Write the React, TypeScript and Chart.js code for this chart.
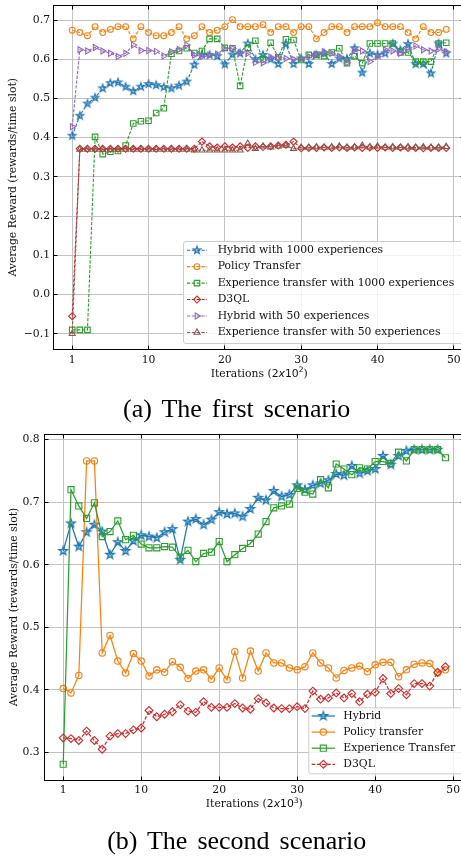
import React, { useEffect, useRef } from 'react';
import { Chart, registerables } from 'chart.js';
import { drawPoint } from 'chart.js/helpers';

Chart.register(...registerables);

const SERIF = '"DejaVu Serif", serif';
const SANS = '"DejaVu Sans", sans-serif';
const FS = 10.8;
const GRID = '#c2c2c2';
const TXT = '#111';

// x positions of the evaluation points (one per logged iteration block)
const iterations = Array.from({ length: 50 }, (_, i) => i);
const xTickValues = [0, 10, 20, 30, 40, 50];
const xTickLabels = ['1', '10', '20', '30', '40', '50'];

// ---------- (a) The first scenario ----------
const s1Names = [
  'Hybrid with 1000 experiences',
  'Policy Transfer',
  'Experience transfer with 1000 experiences',
  'D3QL',
  'Hybrid with 50 experiences',
  'Experience transfer with 50 experiences',
];
const s1Hybrid1000 = [0.405, 0.456, 0.487, 0.502, 0.526, 0.539, 0.541, 0.530, 0.519, 0.530, 0.537, 0.534, 0.529, 0.526, 0.533, 0.543, 0.586, 0.612, 0.611, 0.608, 0.587, 0.612, 0.615, 0.640, 0.600, 0.611, 0.600, 0.588, 0.639, 0.588, 0.602, 0.588, 0.611, 0.615, 0.588, 0.602, 0.601, 0.628, 0.566, 0.615, 0.611, 0.615, 0.640, 0.624, 0.639, 0.588, 0.588, 0.564, 0.640, 0.615];
const s1Policy = [0.674, 0.668, 0.660, 0.683, 0.668, 0.676, 0.683, 0.683, 0.652, 0.683, 0.668, 0.660, 0.660, 0.668, 0.683, 0.652, 0.660, 0.683, 0.668, 0.674, 0.683, 0.701, 0.683, 0.683, 0.683, 0.688, 0.668, 0.683, 0.683, 0.668, 0.683, 0.683, 0.652, 0.668, 0.683, 0.683, 0.668, 0.683, 0.683, 0.683, 0.693, 0.683, 0.683, 0.683, 0.668, 0.652, 0.683, 0.668, 0.668, 0.676];
const s1Exp1000 = [-0.09, -0.09, -0.09, 0.402, 0.358, 0.364, 0.366, 0.380, 0.436, 0.442, 0.443, 0.463, 0.475, 0.614, 0.621, 0.628, 0.616, 0.621, 0.652, 0.652, 0.629, 0.628, 0.532, 0.629, 0.647, 0.600, 0.642, 0.605, 0.651, 0.649, 0.598, 0.611, 0.611, 0.608, 0.617, 0.628, 0.590, 0.608, 0.590, 0.640, 0.640, 0.640, 0.640, 0.617, 0.617, 0.594, 0.594, 0.594, 0.640, 0.642];
const s1D3QL = [-0.055, 0.372, 0.372, 0.372, 0.372, 0.372, 0.372, 0.372, 0.372, 0.372, 0.372, 0.372, 0.372, 0.372, 0.372, 0.372, 0.372, 0.390, 0.378, 0.375, 0.378, 0.375, 0.378, 0.374, 0.378, 0.376, 0.378, 0.380, 0.382, 0.390, 0.373, 0.374, 0.374, 0.375, 0.374, 0.375, 0.374, 0.375, 0.374, 0.375, 0.374, 0.375, 0.374, 0.375, 0.374, 0.374, 0.373, 0.374, 0.374, 0.374];
const s1Hybrid50 = [0.428, 0.624, 0.621, 0.630, 0.621, 0.615, 0.607, 0.615, 0.636, 0.622, 0.622, 0.620, 0.608, 0.619, 0.625, 0.636, 0.611, 0.607, 0.610, 0.613, 0.627, 0.628, 0.617, 0.615, 0.592, 0.591, 0.605, 0.605, 0.602, 0.600, 0.602, 0.607, 0.613, 0.619, 0.615, 0.607, 0.591, 0.624, 0.621, 0.594, 0.607, 0.624, 0.621, 0.615, 0.624, 0.634, 0.624, 0.621, 0.626, 0.619];
const s1Exp50 = [-0.1, 0.370, 0.370, 0.370, 0.370, 0.370, 0.370, 0.370, 0.370, 0.370, 0.370, 0.370, 0.370, 0.370, 0.370, 0.370, 0.368, 0.368, 0.368, 0.368, 0.368, 0.368, 0.368, 0.385, 0.372, 0.378, 0.376, 0.378, 0.380, 0.372, 0.375, 0.375, 0.376, 0.375, 0.376, 0.378, 0.375, 0.376, 0.380, 0.376, 0.378, 0.375, 0.376, 0.375, 0.376, 0.375, 0.376, 0.375, 0.375, 0.377];
const s1YTicks = [-0.1, 0, 0.1, 0.2, 0.3, 0.4, 0.5, 0.6, 0.7];
const s1YTickLabels = ['\u22120.1', '0.0', '0.1', '0.2', '0.3', '0.4', '0.5', '0.6', '0.7'];

// ---------- (b) The second scenario ----------
const s2Names = ['Hybrid', 'Policy transfer', 'Experience Transfer', 'D3QL'];
const s2Hybrid = [0.622, 0.666, 0.629, 0.652, 0.664, 0.653, 0.616, 0.636, 0.622, 0.638, 0.647, 0.645, 0.643, 0.652, 0.657, 0.608, 0.669, 0.673, 0.664, 0.672, 0.684, 0.681, 0.682, 0.677, 0.689, 0.707, 0.703, 0.718, 0.709, 0.712, 0.727, 0.720, 0.727, 0.730, 0.735, 0.745, 0.743, 0.758, 0.746, 0.750, 0.753, 0.774, 0.760, 0.774, 0.782, 0.784, 0.784, 0.784, 0.784];
const s2Policy = [0.402, 0.395, 0.423, 0.766, 0.766, 0.459, 0.487, 0.446, 0.427, 0.458, 0.446, 0.422, 0.432, 0.428, 0.445, 0.436, 0.418, 0.430, 0.432, 0.417, 0.435, 0.416, 0.461, 0.419, 0.462, 0.430, 0.459, 0.443, 0.443, 0.435, 0.432, 0.437, 0.459, 0.443, 0.435, 0.419, 0.431, 0.435, 0.438, 0.429, 0.440, 0.444, 0.444, 0.421, 0.432, 0.441, 0.443, 0.442, 0.427, 0.432];
const s2Exp = [0.281, 0.720, 0.694, 0.674, 0.699, 0.645, 0.653, 0.670, 0.640, 0.647, 0.633, 0.627, 0.627, 0.629, 0.628, 0.612, 0.623, 0.605, 0.618, 0.620, 0.637, 0.605, 0.616, 0.626, 0.634, 0.649, 0.669, 0.691, 0.694, 0.697, 0.722, 0.716, 0.713, 0.736, 0.723, 0.761, 0.753, 0.744, 0.755, 0.753, 0.765, 0.765, 0.762, 0.780, 0.766, 0.784, 0.784, 0.784, 0.784, 0.771];
const s2D3QL = [0.323, 0.322, 0.319, 0.334, 0.319, 0.305, 0.326, 0.330, 0.330, 0.336, 0.339, 0.367, 0.357, 0.361, 0.365, 0.376, 0.366, 0.364, 0.381, 0.372, 0.372, 0.372, 0.378, 0.371, 0.369, 0.386, 0.379, 0.371, 0.370, 0.370, 0.373, 0.370, 0.398, 0.385, 0.387, 0.395, 0.387, 0.394, 0.381, 0.393, 0.396, 0.418, 0.394, 0.402, 0.392, 0.410, 0.410, 0.406, 0.428, 0.437];
const s2YTicks = [0.3, 0.4, 0.5, 0.6, 0.7, 0.8];
const s2YTickLabels = ['0.3', '0.4', '0.5', '0.6', '0.7', '0.8'];

const C = {
  blue: '#1f77b4', orange: '#ff7f0e', green: '#2ca02c', red: '#d62728', purple: '#9467bd', brown: '#8c564b',
};

function makeStar(color: string, R: number, lw: number) {
  let size = Math.ceil(2 * R + lw * 2 + 2);
  if (size % 2) size += 1;
  const c = document.createElement('canvas');
  c.width = size;
  c.height = size;
  const ctx = c.getContext('2d')!;
  const cx = size / 2, cy = size / 2;
  const r = R * 0.381966;
  ctx.beginPath();
  for (let k = 0; k < 10; k++) {
    const ang = -Math.PI / 2 + (k * Math.PI) / 5;
    const rr = k % 2 === 0 ? R : r;
    const px = cx + rr * Math.cos(ang), py = cy + rr * Math.sin(ang);
    if (k === 0) ctx.moveTo(px, py); else ctx.lineTo(px, py);
  }
  ctx.closePath();
  ctx.strokeStyle = color;
  ctx.lineWidth = lw;
  ctx.stroke();
  return c;
}

function ds(label: string, values: number[], color: string, style: any, radius: number, rotation: number, dash: number[], lw: number, order: number) {
  return {
    label,
    data: values.map((v, i) => ({ x: iterations[i], y: v })),
    borderColor: color,
    borderWidth: lw,
    borderDash: dash,
    pointStyle: style,
    pointRadius: radius,
    pointRotation: rotation,
    pointBorderColor: color,
    pointBackgroundColor: 'rgba(0,0,0,0)',
    pointBorderWidth: 1.1,
    tension: 0,
    fill: false,
    order,
  };
}

const ap = (p: number) => Math.round(p - 0.5) + 0.5;

function drawRuns(ctx: CanvasRenderingContext2D, runs: any[], cx: number, y: number) {
  let total = 0;
  for (const r of runs) { ctx.font = r.font; total += ctx.measureText(r.text).width; }
  let x = cx - total / 2;
  ctx.textAlign = 'left';
  ctx.textBaseline = 'alphabetic';
  for (const r of runs) {
    ctx.font = r.font;
    ctx.fillText(r.text, x, y + (r.dy || 0));
    x += ctx.measureText(r.text).width;
  }
}

const decorPlugin = {
  id: 'decor',
  afterDatasetsDraw(chart: any, _a: any, o: any) {
    const { ctx, chartArea: a, scales } = chart;
    ctx.save();
    ctx.setLineDash([]);
    ctx.strokeStyle = '#000';
    ctx.lineWidth = 1;
    const L = ap(a.left), R = ap(a.right), T = ap(a.top), B = ap(a.bottom);
    ctx.strokeRect(L, T, R - L, B - T);
    ctx.beginPath();
    for (const v of o.xTicks) {
      const px = ap(scales.x.getPixelForValue(v));
      ctx.moveTo(px, B); ctx.lineTo(px, B - o.tickLen);
      ctx.moveTo(px, T); ctx.lineTo(px, T + o.tickLen);
    }
    for (const v of o.yTicks) {
      const py = ap(scales.y.getPixelForValue(v));
      ctx.moveTo(L, py); ctx.lineTo(L + o.tickLen, py);
      ctx.moveTo(R, py); ctx.lineTo(R - o.tickLen, py);
    }
    ctx.stroke();

    // legend
    const g = o.legend;
    ctx.beginPath();
    ctx.roundRect(g.x + 0.5, g.y + 0.5, g.w, g.h, 2.5);
    ctx.fillStyle = 'rgba(255,255,255,0.8)';
    ctx.fill();
    ctx.strokeStyle = '#cccccc';
    ctx.lineWidth = 1;
    ctx.stroke();
    chart.data.datasets.forEach((d: any, i: number) => {
      const yy = g.row0 + i * g.dy;
      ctx.strokeStyle = d.borderColor;
      ctx.lineWidth = d.borderWidth;
      ctx.setLineDash(d.borderDash || []);
      ctx.beginPath();
      ctx.moveTo(g.lx0, yy);
      ctx.lineTo(g.lx1, yy);
      ctx.stroke();
      ctx.setLineDash([]);
      ctx.fillStyle = 'rgba(0,0,0,0)';
      ctx.strokeStyle = d.pointBorderColor;
      ctx.lineWidth = d.pointBorderWidth;
      drawPoint(ctx, { pointStyle: d.pointStyle, rotation: d.pointRotation || 0, radius: d.pointRadius, borderWidth: d.pointBorderWidth } as any, (g.lx0 + g.lx1) / 2, yy);
      ctx.fillStyle = TXT;
      ctx.font = `${g.fs}px ${SERIF}`;
      ctx.textAlign = 'left';
      ctx.textBaseline = 'middle';
      ctx.fillText(d.label, g.tx, yy);
    });

    // axis titles
    ctx.fillStyle = TXT;
    drawRuns(ctx, o.xTitleRuns, (a.left + a.right) / 2, o.xTitleY);
    ctx.save();
    ctx.translate(o.yTitleX, o.yTitleY ?? (a.top + a.bottom) / 2);
    ctx.rotate(-Math.PI / 2);
    ctx.font = `${o.titleFs}px ${SERIF}`;
    ctx.textAlign = 'center';
    ctx.textBaseline = 'middle';
    ctx.fillText('Average Reward (rewards/time slot)', 0, 0);
    ctx.restore();
    ctx.restore();
  },
};

function titleRuns(exp: string, fs: number) {
  return [
    { text: 'Iterations (', font: `${fs}px ${SERIF}` },
    { text: '2', font: `${fs}px ${SANS}` },
    { text: 'x', font: `italic ${fs}px ${SANS}` },
    { text: '10', font: `${fs}px ${SANS}` },
    { text: exp, font: `${fs * 0.7}px ${SANS}`, dy: -fs * 0.42 },
    { text: ')', font: `${fs}px ${SERIF}` },
  ];
}

function makeScales(yMin: number, yMax: number, yTicks: number[], yLabels: string[], yWidth: number, xHeight: number, yPad: number, xPad: number) {
  return {
    x: {
      type: 'linear',
      min: -2.45,
      max: 51.45,
      afterBuildTicks: (s: any) => { s.ticks = xTickValues.map((v) => ({ value: v })); },
      afterFit: (s: any) => { s.height = xHeight; s.paddingLeft = 0; s.paddingRight = 0; },
      grid: { color: GRID, lineWidth: 1, drawTicks: false },
      border: { display: false },
      ticks: { padding: xPad, color: TXT, autoSkip: false, maxRotation: 0, font: { size: FS, family: SERIF }, callback: (_v: any, i: number) => xTickLabels[i] },
    },
    y: {
      type: 'linear',
      min: yMin,
      max: yMax,
      afterBuildTicks: (s: any) => { s.ticks = yTicks.map((v) => ({ value: v })); },
      afterFit: (s: any) => { s.width = yWidth; s.paddingTop = 0; s.paddingBottom = 0; },
      grid: { color: GRID, lineWidth: 1, drawTicks: false },
      border: { display: false },
      ticks: { padding: yPad, color: TXT, autoSkip: false, font: { size: FS, family: SERIF }, callback: (_v: any, i: number) => yLabels[i] },
    },
  };
}

export default function App() {
  const c1 = useRef<HTMLCanvasElement>(null);
  const c2 = useRef<HTMLCanvasElement>(null);

  useEffect(() => {
    Chart.defaults.font.family = SERIF;
    const star1 = makeStar(C.blue, 3.9, 1.2);
    const star2 = makeStar(C.blue, 4.4, 1.3);
    const dash1 = [3.3, 1.5];
    const ch1 = new Chart(c1.current!, {
      type: 'line',
      data: {
        datasets: [
          ds(s1Names[0], s1Hybrid1000, C.blue, star1, 3.9, 0, dash1, 1.1, 10),
          ds(s1Names[1], s1Policy, C.orange, 'circle', 2.9, 0, dash1, 1.1, 9),
          ds(s1Names[2], s1Exp1000, C.green, 'rect', 3.9, 0, dash1, 1.1, 8),
          ds(s1Names[3], s1D3QL, C.red, 'rectRot', 3.5, 0, dash1, 1.1, 7),
          ds(s1Names[4], s1Hybrid50, C.purple, 'triangle', 3.5, 90, dash1, 1.1, 6),
          ds(s1Names[5], s1Exp50, C.brown, 'triangle', 3.5, 0, dash1, 1.1, 5),
        ],
      } as any,
      options: {
        responsive: false,
        animation: false,
        devicePixelRatio: 1,
        layout: { padding: { left: 0, top: 3.5, right: 3.1, bottom: 0 } },
        scales: makeScales(-0.14, 0.738, s1YTicks, s1YTickLabels, 53.5, 45.5, 3.5, 4) as any,
        plugins: {
          legend: { display: false },
          tooltip: { enabled: false },
          decor: {
            xTicks: xTickValues, yTicks: s1YTicks, tickLen: 4,
            legend: { x: 183, y: 241, w: 290, h: 102, row0: 250.2, dy: 16.45, lx0: 187, lx1: 207, tx: 217.7, fs: FS },
            xTitleRuns: titleRuns('2', FS), xTitleY: 376.7, yTitleX: 12.8, yTitleY: null, titleFs: FS,
          },
        } as any,
      },
      plugins: [decorPlugin],
    });

    const ch2 = new Chart(c2.current!, {
      type: 'line',
      data: {
        datasets: [
          ds(s2Names[0], s2Hybrid, C.blue, star2, 4.4, 0, [], 1.25, 10),
          ds(s2Names[1], s2Policy, C.orange, 'circle', 3.2, 0, [], 1.25, 9),
          ds(s2Names[2], s2Exp, C.green, 'rect', 4.3, 0, [], 1.25, 8),
          ds(s2Names[3], s2D3QL, C.red, 'rectRot', 3.9, 0, [3.6, 1.6], 1.2, 7),
        ],
      } as any,
      options: {
        responsive: false,
        animation: false,
        devicePixelRatio: 1,
        layout: { padding: { left: 0, top: 9, right: 4.4, bottom: 0 } },
        scales: makeScales(0.2558, 0.809, s2YTicks, s2YTickLabels, 44.1, 40, 4.5, 3.7) as any,
        plugins: {
          legend: { display: false },
          tooltip: { enabled: false },
          decor: {
            xTicks: xTickValues, yTicks: s2YTicks, tickLen: 4,
            legend: { x: 308.3, y: 707.3 - 425, w: 170, h: 66, row0: 716 - 425, dy: 16.1, lx0: 311.7, lx1: 335, tx: 343.3, fs: FS },
            xTitleRuns: titleRuns('3', FS), xTitleY: 807.3 - 425, yTitleX: 14.2, yTitleY: null, titleFs: FS,
          },
        } as any,
      },
      plugins: [decorPlugin],
    });
    return () => { ch1.destroy(); ch2.destroy(); };
  }, []);

  const cap: React.CSSProperties = {
    position: 'absolute', left: 0, width: 473.4, textAlign: 'center', fontFamily: '"Liberation Serif", "Times New Roman", serif',
    fontSize: 26, lineHeight: '26px', wordSpacing: '3.5px', whiteSpace: 'nowrap', color: '#000',
  };

  return (
    <div style={{ position: 'fixed', left: 0, top: 0, width: 461, height: 856, overflow: 'hidden', background: '#fff' }}>
      <canvas ref={c1} width={470} height={395} style={{ position: 'absolute', left: 0, top: 0, width: 470, height: 395 }} />
      <div style={{ ...cap, top: 396.2 }}>(a) The first scenario</div>
      <canvas ref={c2} width={470} height={395} style={{ position: 'absolute', left: 0, top: 425, width: 470, height: 395 }} />
      <div style={{ ...cap, top: 828.2 }}>(b) The second scenario</div>
    </div>
  );
}
